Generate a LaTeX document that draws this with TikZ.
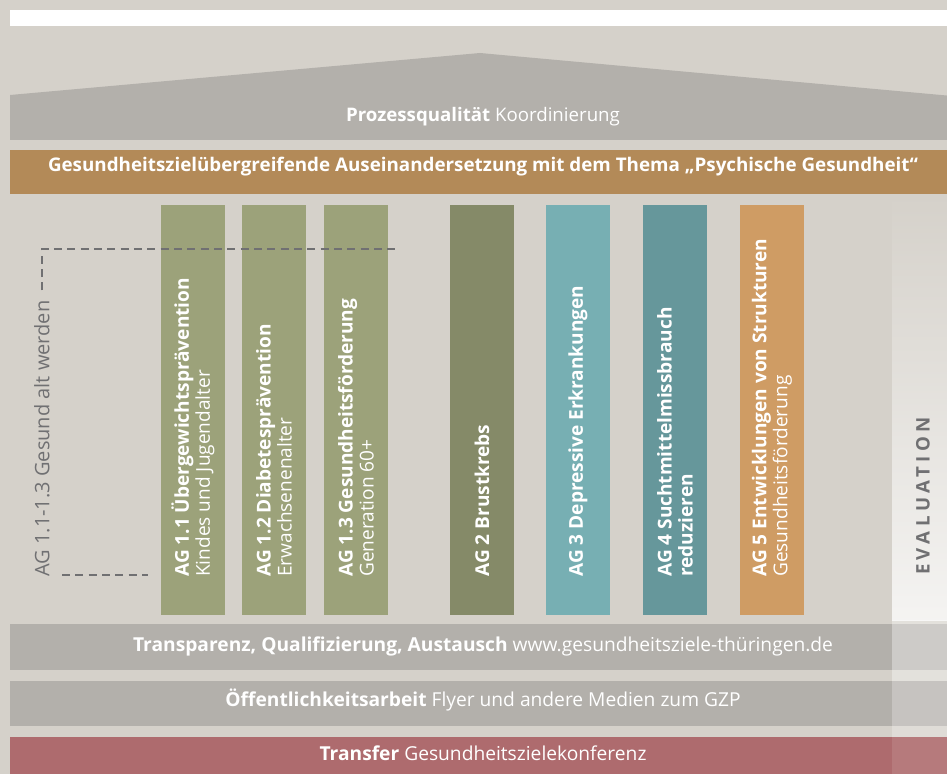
\documentclass[tikz,border=0pt]{standalone}
\usepackage{fontspec}
\setmainfont{Open Sans}
\usepackage{tikz}

\definecolor{bg}{HTML}{D5D1CA}
\definecolor{roofgray}{HTML}{B3B0AB}
\definecolor{barbrown}{HTML}{B38A58}
\definecolor{agolive}{HTML}{9CA27A}
\definecolor{agdark}{HTML}{858A68}
\definecolor{agteal}{HTML}{77AFB3}
\definecolor{agpetrol}{HTML}{66979B}
\definecolor{agorange}{HTML}{CF9C64}
\definecolor{transferred}{HTML}{AE6B6E}
\definecolor{dashgray}{HTML}{707072}

\begin{document}
\begin{tikzpicture}[x=0.75pt, y=-0.75pt,
    every node/.style={inner sep=0pt, font=\fontsize{14}{15.5}\selectfont},
    bartext/.style={text=white, font=\fontsize{14.4}{16}\selectfont},
    colbox/.style={minimum width=48pt, minimum height=307.5pt},
    coltext/.style={text=white, rotate=90, anchor=west, align=left, font=\fontsize{14.3}{15.75}\selectfont},
    dashline/.style={draw=dashgray, line width=1.5pt, dash pattern=on 6pt off 4pt}]
    \useasboundingbox (0,0) rectangle (947,774);
    \clip (0,0) rectangle (947,774);
    \fill[bg] (0,0) rectangle (947,774);

    % roof
    \fill[white] (10,10) rectangle (950,26);
    \fill[roofgray] (10,140) -- (10,95) -- (480,53) -- (952,96) -- (952,140) -- cycle;
    \node[bartext, font=\fontsize{14}{16}\selectfont] (proz) at (483,117) {\textbf{Prozessqualität} Koordinierung};

    \fill[barbrown] (10,150) rectangle (950,194);
    \node[bartext, font=\fontsize{14.1}{16}\selectfont] (psych) at (483,167) {\textbf{Gesundheitszielübergreifende Auseinandersetzung mit dem Thema „Psychische Gesundheit“}};

    % pillars
    \node[colbox, fill=agolive] (ag11) at (193,410) {};
    \node[colbox, fill=agolive] (ag12) at (274,410) {};
    \node[colbox, fill=agolive] (ag13) at (356,410) {};
    \node[colbox, fill=agdark] (ag2) at (482,410) {};
    \node[colbox, fill=agteal] (ag3) at (578,410) {};
    \node[colbox, fill=agpetrol] (ag4) at (675,410) {};
    \node[colbox, fill=agorange] (ag5) at (772,410) {};

    \node[coltext] (t11) at (193,577) {\textbf{AG 1.1 Übergewichtsprävention}\\Kindes und Jugendalter};
    \node[coltext] (t12) at (274,577) {\textbf{AG 1.2 Diabetesprävention}\\Erwachsenenalter};
    \node[coltext] (t13) at (356,577) {\textbf{AG 1.3 Gesundheitsförderung}\\Generation 60+};
    \node[coltext] (t2) at (482,577) {\textbf{AG 2 Brustkrebs}};
    \node[coltext] (t3) at (578,577) {\textbf{AG 3 Depressive Erkrankungen}};
    \node[coltext] (t4) at (675,577) {\textbf{AG 4 Suchtmittelmissbrauch}\\\textbf{reduzieren}};
    \node[coltext] (t5) at (772,577) {\textbf{AG 5 Entwicklungen von Strukturen}\\Gesundheitsförderung};

    % AG 1 bracket
    \node[rotate=90, anchor=west, text=dashgray, font=\fontsize{15}{16}\selectfont] (gaw) at (42,577) {AG 1.1-1.3 Gesund alt werden};
    \coordinate (dtop) at (400,249);
    \coordinate (dl) at (62,575);
    \coordinate (dr) at (148,575);
    \draw[dashline] ([yshift=7.5pt]gaw.east) |- (dtop);
    \draw[dashline] (dl) -- (dr);

    % bottom bars
    \fill[roofgray] (10,624) rectangle (950,670);
    \node[bartext] (transp) at (483,646) {\textbf{Transparenz, Qualifizierung, Austausch} www.gesundheitsziele-thüringen.de};
    \fill[roofgray] (10,681) rectangle (950,726);
    \node[bartext] (oeff) at (483,700) {\textbf{Öffentlichkeitsarbeit} Flyer und andere Medien zum GZP};
    \fill[transferred] (10,737) rectangle (950,780);
    \node[bartext] (transf) at (483,753) {\textbf{Transfer} Gesundheitszielekonferenz};

    % evaluation
    \shade[top color=bg, middle color=white!92!bg, bottom color=white!75!bg] (892,195) rectangle (950,620);
    \fill[white, opacity=0.35] (892,620) rectangle (950,681);
    \fill[white, opacity=0.25] (892,681) rectangle (950,737);
    \fill[white, opacity=0.1] (892,737) rectangle (950,780);
    \node[rotate=90, text=dashgray] (eval) at (923,496) {\bfseries\addfontfeature{LetterSpace=24}EVALUATION};
\end{tikzpicture}
\end{document}
